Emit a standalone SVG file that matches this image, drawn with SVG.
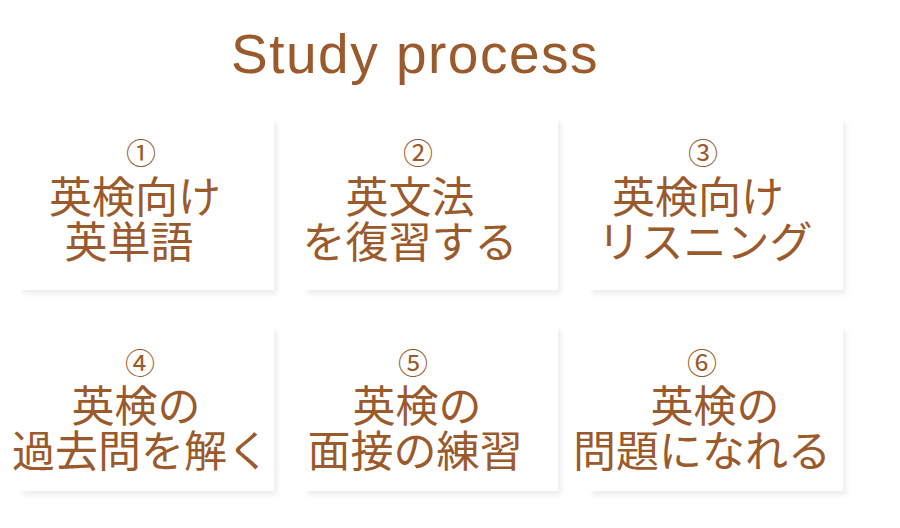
<svg xmlns="http://www.w3.org/2000/svg" width="900" height="528" viewBox="0 0 900 528">
<style>
.card{fill:#ffffff;}
.t{font-family:"Noto Sans CJK JP","Noto Sans CJK SC",sans-serif;fill:#9b5a2b;text-anchor:middle;}
.n{font-size:30px;}
.m{font-size:43px;}
.title{font-family:"Liberation Sans",Arial,sans-serif;font-size:55px;fill:#9b5a2b;letter-spacing:1.5px;}
</style>
<defs>
<filter id="sh" x="-10%" y="-10%" width="125%" height="130%">
<feDropShadow dx="3" dy="4" stdDeviation="2.5" flood-color="#000" flood-opacity="0.07"/>
</filter>
</defs>
<rect width="900" height="528" fill="#ffffff"/>
<text class="title" x="231" y="73">Study process</text>
<g id="node1">
<rect class="card" x="20" y="118" width="254" height="172" filter="url(#sh)"/>
<text class="t n" x="141" y="164">①</text>
<text class="t m" x="135" y="213">英検向け</text>
<text class="t m" x="129" y="258">英単語</text>
</g>
<g id="node2">
<rect class="card" x="304" y="118" width="254" height="172" filter="url(#sh)"/>
<text class="t n" x="418" y="164">②</text>
<text class="t m" x="410" y="213">英文法</text>
<text class="t m" x="410" y="258">を復習する</text>
</g>
<g id="node3">
<rect class="card" x="589" y="118" width="254" height="172" filter="url(#sh)"/>
<text class="t n" x="703" y="164">③</text>
<text class="t m" x="698" y="213">英検向け</text>
<text class="t m" x="705" y="258">リスニング</text>
</g>
<g id="node4">
<rect class="card" x="20" y="326" width="254" height="165" filter="url(#sh)"/>
<text class="t n" x="140" y="374">④</text>
<text class="t m" x="136" y="422">英検の</text>
<text class="t m" x="141" y="467">過去問を解く</text>
</g>
<g id="node5">
<rect class="card" x="304" y="326" width="254" height="165" filter="url(#sh)"/>
<text class="t n" x="413" y="374">⑤</text>
<text class="t m" x="417" y="422">英検の</text>
<text class="t m" x="415" y="467">面接の練習</text>
</g>
<g id="node6">
<rect class="card" x="589" y="326" width="254" height="165" filter="url(#sh)"/>
<text class="t n" x="702" y="374">⑥</text>
<text class="t m" x="715" y="422">英検の</text>
<text class="t m" x="702" y="467">問題になれる</text>
</g>
<g id="connectors"></g>
</svg>
